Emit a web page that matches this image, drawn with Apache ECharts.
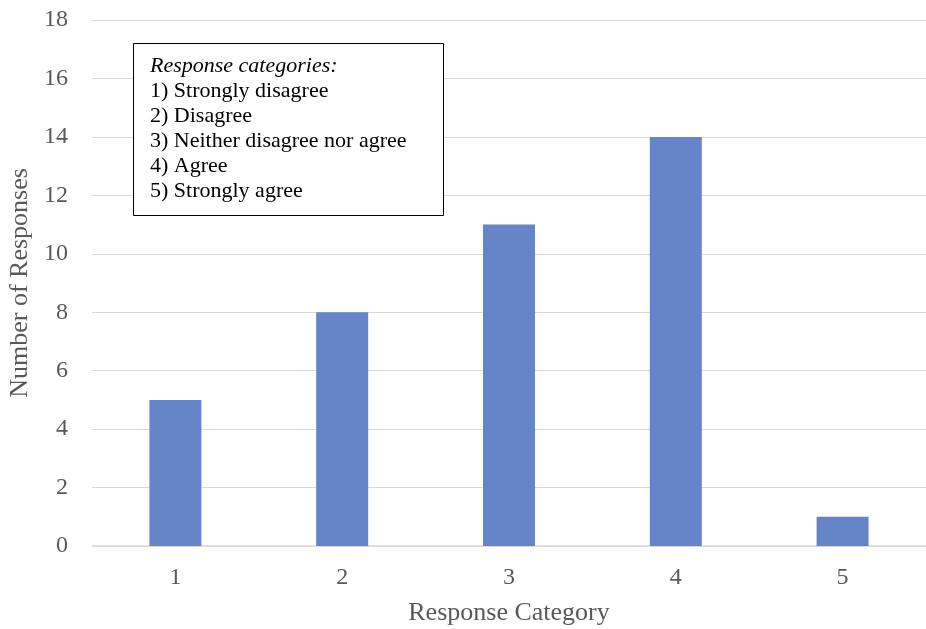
<!DOCTYPE html>
<html>
<head>
<meta charset="utf-8">
<script src="https://cdn.jsdelivr.net/npm/echarts@6/dist/echarts.min.js"></script>
<style>
  html, body { margin: 0; padding: 0; background: #fff; }
  #chart { width: 926px; height: 629px; }
</style>
</head>
<body>
<div id="chart"></div>
<script>
// Survey responses per Likert category
var categories = ['1', '2', '3', '4', '5'];
var responses = [5, 8, 11, 14, 1];
var yTicks = { min: 0, max: 18, interval: 2 };
var keyTitle = 'Response categories:';
var keyLines = [
  '1) Strongly disagree',
  '2) Disagree',
  '3) Neither disagree nor agree',
  '4) Agree',
  '5) Strongly agree'
];

var serif = '"Liberation Serif", "Times New Roman", serif';
var textGrey = '#595959';

var chart = echarts.init(document.getElementById('chart'), null, { renderer: 'canvas' });
chart.setOption({
  animation: false,
  backgroundColor: '#ffffff',
  title: {
    left: 133,
    top: 42,
    text: '{h|' + keyTitle + '}\n' + keyLines.map(function (s) { return '{b|' + s + '}'; }).join('\n'),
    borderColor: '#000000',
    borderWidth: 1,
    backgroundColor: '#ffffff',
    padding: [12, 37, 13, 17],
    textStyle: {
      fontWeight: 'normal',
      rich: {
        h: { fontFamily: serif, fontSize: 22, fontStyle: 'italic', fontWeight: 'normal', color: '#000', lineHeight: 25 },
        b: { fontFamily: serif, fontSize: 22, fontWeight: 'normal', color: '#000', lineHeight: 25 }
      }
    }
  },
  grid: { left: 92, right: 0, top: 20, bottom: 83, outerBoundsMode: 'none', containLabel: false },
  xAxis: {
    type: 'category',
    data: categories,
    name: 'Response Category',
    nameLocation: 'middle',
    nameGap: 54,
    nameTextStyle: { fontFamily: serif, fontSize: 26, color: textGrey },
    axisLine: { lineStyle: { color: '#d9d9d9', width: 1.5 } },
    axisTick: { show: false },
    axisLabel: { fontFamily: serif, fontSize: 24, color: textGrey, margin: 20 }
  },
  yAxis: {
    type: 'value',
    min: yTicks.min,
    max: yTicks.max,
    interval: yTicks.interval,
    name: 'Number of Responses',
    nameLocation: 'middle',
    nameGap: 56,
    nameTextStyle: { fontFamily: serif, fontSize: 26, color: textGrey },
    axisLine: { show: false },
    axisTick: { show: false },
    splitLine: { lineStyle: { color: '#d9d9d9', width: 1 } },
    axisLabel: { fontFamily: serif, fontSize: 24, color: textGrey, margin: 24 }
  },
  series: [{
    type: 'bar',
    data: responses,
    barWidth: 52,
    itemStyle: { color: '#6585c8' }
  }]
});
</script>
</body>
</html>
